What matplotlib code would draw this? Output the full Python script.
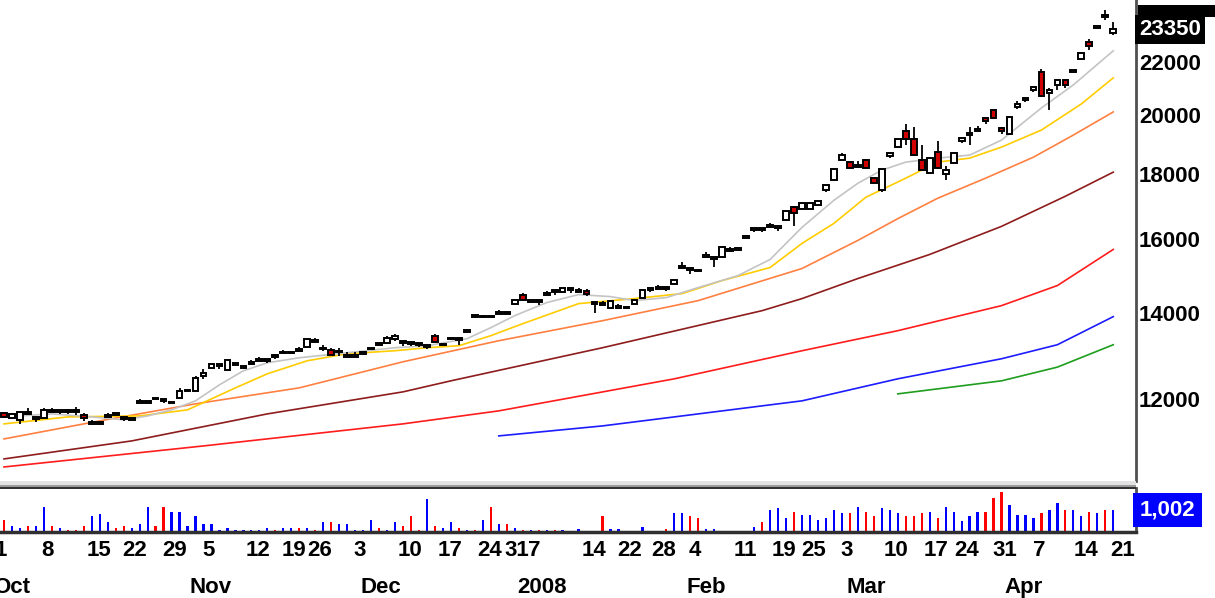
# Daily candlestick chart, Oct 2007 - Apr 2008, with moving averages and volume
import numpy as np
import matplotlib
matplotlib.use('Agg')
import matplotlib.pyplot as plt
import matplotlib.transforms as mtransforms
from matplotlib.patches import Rectangle
from matplotlib.ticker import NullLocator
from matplotlib import font_manager

W, H = 1215, 598

# ---- daily OHLC (one entry per trading day) ----
opens = [11700, 11595, 11554, 11722, 11575, 11595, 11764, 11722, 11764, 11764,
         11658, 11471, 11471, 11616, 11700, 11616, 11554, 11914, 11914, 12022,
         12000, 11914, 12022, 12174, 12174, 12509, 12691, 12737, 12645, 12760,
         12691, 12783, 12852, 12852, 12992, 13040, 13040, 13134, 13181, 13349,
         13134, 13111, 13063, 12945, 12945, 13016, 13134, 13277, 13277, 13373,
         13325, 13301, 13277, 13181, 13446, 13229, 13373, 13397, 13543, 13966,
         13916, 13941, 13991, 14041, 14246, 14480, 14298, 14350, 14480, 14611,
         14559, 14611, 14559, 14585, 14298, 14272, 14143, 14143, 14169, 14246,
         14402, 14611, 14638, 14691, 14771, 15204, 15204, 15149, 15482, 15426,
         15482, 15707, 15679, 16023, 16256, 16315, 16345, 16315, 16553, 16947,
         16886, 16886, 17008, 17475, 17794, 18449, 18382, 18217, 18449, 17859,
         17475, 18583, 18888, 19442, 19163, 18449, 18021, 18719, 17988, 18350,
         19094, 19302, 19442, 19905, 20195, 19547, 19337, 20304, 20563, 20938,
         21631, 20826, 21128, 21320, 21631, 22145, 22837, 23422, 23979, 23180]
highs = [11700, 11690, 11722, 11807, 11616, 11807, 11807, 11764, 11764, 11828,
         11700, 11554, 11512, 11700, 11700, 11616, 11595, 12000, 11957, 12022,
         12000, 11935, 12241, 12196, 12509, 12668, 12783, 12783, 12875, 12806,
         12737, 12875, 12945, 12898, 12992, 13111, 13063, 13181, 13397, 13397,
         13229, 13158, 13158, 13063, 13063, 13063, 13158, 13277, 13446, 13495,
         13325, 13301, 13277, 13229, 13495, 13253, 13397, 13397, 13592, 13966,
         13941, 13941, 14092, 14041, 14350, 14533, 14350, 14350, 14585, 14611,
         14665, 14665, 14665, 14638, 14298, 14324, 14324, 14246, 14169, 14350,
         14611, 14665, 14745, 14691, 14878, 15342, 15204, 15149, 15622, 15482,
         15764, 15764, 15736, 16081, 16315, 16315, 16464, 16374, 16825, 16978,
         17070, 17070, 17131, 17634, 18152, 18685, 18382, 18416, 18483, 17891,
         18152, 18685, 19163, 19690, 19583, 18956, 18516, 19094, 18250, 18685,
         19198, 19583, 19619, 19905, 20195, 19583, 19941, 20526, 20638, 21052,
         21748, 21014, 21320, 21320, 21709, 22386, 22960, 23507, 24174, 23680]
lows = [11600, 11590, 11471, 11680, 11512, 11595, 11722, 11679, 11679, 11658,
        11533, 11471, 11471, 11616, 11658, 11533, 11554, 11914, 11914, 12000,
        11914, 11914, 12022, 12174, 12174, 12441, 12691, 12668, 12645, 12760,
        12691, 12783, 12852, 12806, 12898, 13040, 13040, 13087, 13181, 13301,
        13087, 12992, 12969, 12945, 12945, 13016, 13134, 13229, 13253, 13325,
        13205, 13205, 13181, 13134, 13301, 13229, 13373, 13229, 13543, 13916,
        13916, 13916, 13991, 13991, 14246, 14350, 14298, 14220, 14480, 14480,
        14559, 14533, 14559, 14454, 14016, 14220, 14143, 14143, 14143, 14246,
        14402, 14559, 14638, 14585, 14771, 15204, 15040, 15122, 15482, 15231,
        15482, 15651, 15679, 16023, 16198, 16198, 16345, 16227, 16553, 16374,
        16886, 16886, 17008, 17411, 17794, 18449, 18184, 18217, 18184, 17698,
        17411, 18516, 18888, 18956, 18617, 18119, 18021, 18184, 17794, 18350,
        19025, 18956, 19442, 19690, 19905, 19337, 19337, 20231, 20489, 20862,
        20675, 20195, 20938, 21014, 21631, 22145, 22508, 23422, 23763, 23130]
closes = [11620, 11680, 11722, 11680, 11616, 11764, 11722, 11764, 11722, 11722,
          11595, 11512, 11512, 11658, 11658, 11575, 11595, 11957, 11957, 12000,
          11957, 11935, 12174, 12196, 12464, 12577, 12783, 12783, 12875, 12806,
          12737, 12829, 12898, 12898, 12945, 13063, 13063, 13087, 13373, 13301,
          13158, 12992, 13087, 12992, 12992, 13063, 13158, 13229, 13397, 13446,
          13277, 13253, 13229, 13229, 13301, 13253, 13397, 13349, 13592, 13916,
          13941, 13916, 14041, 13991, 14350, 14350, 14350, 14298, 14533, 14559,
          14665, 14665, 14611, 14507, 14246, 14220, 14324, 14195, 14143, 14350,
          14611, 14665, 14691, 14638, 14878, 15259, 15149, 15122, 15538, 15482,
          15764, 15651, 15736, 16081, 16315, 16256, 16404, 16374, 16825, 16764,
          17070, 17070, 17131, 17634, 18152, 18617, 18184, 18283, 18184, 17698,
          18152, 18685, 19163, 19163, 18617, 18119, 18516, 18184, 18119, 18685,
          19198, 19372, 19512, 19797, 19905, 19442, 19941, 20415, 20638, 21052,
          20713, 20938, 21320, 21128, 21709, 22386, 22672, 23507, 23892, 23350]
volumes = [529, 265, 176, 265, 265, 1147, 265, 176, 88, 88,
           265, 706, 794, 441, 176, 265, 176, 353, 1147, 265,
           1147, 882, 882, 265, 706, 353, 353, 88, 176, 88,
           88, 88, 88, 176, 88, 176, 176, 176, 176, 88,
           441, 441, 353, 353, 88, 88, 529, 176, 88, 441,
           265, 706, 88, 1500, 265, 176, 441, 176, 88, 88,
           529, 1147, 353, 353, 176, 88, 88, 88, 88, 88,
           75, 62, 123, 62, 62, 701, 123, 123, 62, 62,
           209, 62, 62, 123, 849, 849, 701, 627, 123, 123,
           62, 62, 62, 62, 209, 430, 996, 1070, 627, 923,
           775, 775, 554, 627, 996, 849, 849, 1144, 923, 701,
           1070, 996, 849, 701, 701, 849, 923, 627, 1144, 923,
           480, 701, 923, 923, 1513, 1808, 1218, 775, 775, 627,
           849, 996, 1292, 996, 996, 701, 923, 849, 996, 1002]

# ---- moving averages at these bar indices ----
ma_gray_idx = [0, 6, 11, 15, 18, 21, 24, 27, 30, 33, 37, 43, 49, 53, 58, 61, 64, 68,
               72, 76, 79, 83, 87, 92, 96, 100, 104, 107, 110, 113, 117, 121, 125,
               130, 134, 139]
ma_gray = [11616, 11679, 11616, 11554, 11637, 11764, 11957, 12307, 12622, 12806,
           12922, 13040, 13158, 13205, 13373, 13642, 13941, 14272, 14480, 14428,
           14324, 14402, 14665, 14986, 15426, 16345, 17162, 17698, 18119, 18383,
           18516, 18617, 19128, 20268, 21128, 22467]
ma_yellow_idx = [0, 8, 17, 23, 29, 33, 38, 43, 49, 53, 57, 61, 65, 72, 79, 85, 90,
                 96, 100, 104, 108, 113, 117, 121, 125, 130, 135, 139]
ma_yellow = [11471, 11616, 11637, 11764, 12240, 12554, 12852, 13016, 13087, 13158,
             13205, 13446, 13740, 14246, 14376, 14507, 14851, 15204, 15879, 16464,
             17256, 17859, 18383, 18516, 18888, 19477, 20415, 21397]
ma_orange_idx = [0, 12, 24, 37, 50, 62, 75, 87, 100, 107, 112, 117, 123, 129, 134, 139]
ma_orange = [11164, 11533, 11893, 12240, 12829, 13325, 13815, 14324, 15177, 15965,
             16603, 17225, 17859, 18548, 19302, 20123]
ma_maroon_idx = [0, 16, 33, 50, 56, 75, 95, 100, 107, 116, 125, 133, 139]
ma_maroon = [10769, 11124, 11679, 12152, 12396, 13158, 14067, 14376, 14905, 15566,
             16374, 17287, 18054]
ma_red_idx = [0, 25, 50, 62, 84, 100, 112, 125, 132, 139]
ma_red = [10614, 11024, 11471, 11743, 12441, 13087, 13568, 14195, 14718, 15707]
ma_blue_idx = [62, 75, 87, 100, 112, 125, 132, 139]
ma_blue = [11225, 11429, 11679, 11957, 12441, 12899, 13229, 13916]
ma_green_idx = [112, 125, 132, 139]
ma_green = [12108, 12396, 12706, 13229]

# ---- axis labels ----
price_ticks = [12000, 14000, 16000, 18000, 20000, 22000]
day_pos = [-0.4, 5.4, 11.9, 16.4, 21.4, 25.6, 31.8, 36.3, 39.5, 44.6, 50.9, 55.9,
           60.8, 64.2, 66.5, 73.9, 78.4, 82.6, 86.6, 92.9, 97.7, 101.5, 105.6,
           111.8, 116.8, 120.6, 125.4, 129.7, 135.6, 140.2]
day_labels = ['1', '8', '15', '22', '29', '5', '12', '19', '26', '3', '10', '17',
              '24', '31', '7', '14', '22', '28', '4', '11', '19', '25', '3', '10',
              '17', '24', '31', '7', '14', '21']
month_pos = [1.0, 25.9, 47.2, 67.4, 88.0, 108.1, 127.8]
month_labels = ['Oct', 'Nov', 'Dec', '2008', 'Feb', 'Mar', 'Apr']

# fonts
names = {f.name for f in font_manager.fontManager.ttflist}
if 'Liberation Sans Narrow' in names:
    narrow, day_size = 'Liberation Sans Narrow', 18
else:
    narrow, day_size = 'Liberation Sans', 16
label_font = 'Liberation Sans'


def fbox(x0, y0, x1, y1):
    # pixel box (top-left origin) -> figure fraction rect
    return [x0 / W, 1 - y1 / H, (x1 - x0) / W, (y1 - y0) / H]


fig = plt.figure(figsize=(W / 100, H / 100), dpi=100)
fig.patch.set_facecolor('white')
ax = fig.add_axes(fbox(0, 0, 1136, 481))
axv = fig.add_axes(fbox(0, 488, 1136, 532), sharex=ax)

n = len(closes)
x = np.arange(n)

# moving averages
for idx, vals, col in [(ma_green_idx, ma_green, '#1e9e1e'),
                       (ma_blue_idx, ma_blue, '#1c1cff'),
                       (ma_red_idx, ma_red, '#ff1c1c'),
                       (ma_maroon_idx, ma_maroon, '#8e1c1c'),
                       (ma_orange_idx, ma_orange, '#ff8040'),
                       (ma_yellow_idx, ma_yellow, '#ffcc00'),
                       (ma_gray_idx, ma_gray, '#c4c4c4')]:
    ax.plot(idx, vals, color=col, lw=1.2, zorder=2)

# candles
ax.vlines(x, lows, highs, color='black', lw=1.3, zorder=3)
for i in x:
    o, c = opens[i], closes[i]
    face = '#d00000' if c < o else 'white'
    ax.add_patch(Rectangle((i - 0.36, min(o, c)), 0.72, abs(c - o),
                           facecolor=face, edgecolor='black', lw=1.4, zorder=4))

ax.set_yscale('log')
ax.set_ylim(10349, 24620)
ax.set_xlim(-0.5, 141.85)
ax.yaxis.tick_right()
ax.set_yticks(price_ticks)
ax.set_yticklabels([str(v) for v in price_ticks])
ax.yaxis.set_minor_locator(NullLocator())
ax.tick_params(axis='y', length=0, pad=2, labelsize=16)
for t in ax.get_yticklabels():
    t.set_fontfamily(label_font)
    t.set_fontweight('bold')
ax.tick_params(axis='x', bottom=False, labelbottom=False)
for s in ['left', 'top', 'bottom']:
    ax.spines[s].set_visible(False)
ax.spines['right'].set_color('#505050')
ax.spines['right'].set_linewidth(2)

# last close box
tr = mtransforms.blended_transform_factory(ax.transAxes, ax.transData)
ax.text(1.003, closes[-1], f'{closes[-1]}', transform=tr, ha='left', va='center',
        color='white', fontsize=16, fontweight='bold', family=label_font,
        bbox=dict(boxstyle='square,pad=0.18', fc='black', ec='none'), clip_on=False)
fig.add_artist(Rectangle((1138 / W, 1 - 17 / H), 77 / W, 12 / H,
                         transform=fig.transFigure, fc='black', ec='none'))

# volume
vcol = ['#ff0000' if c < o else '#0000ff' for o, c in zip(opens, closes)]
axv.bar(x, volumes, width=0.28, color=vcol, zorder=2)
axv.set_ylim(0, 1985)
axv.set_yticks([])
axv.spines['left'].set_visible(False)
axv.spines['top'].set_visible(False)
axv.spines['right'].set_color('#505050')
axv.spines['right'].set_linewidth(2)
axv.spines['bottom'].set_color('#303030')
axv.spines['bottom'].set_linewidth(2.5)
trv = mtransforms.blended_transform_factory(axv.transAxes, axv.transData)
axv.text(1.003, volumes[-1], f'{volumes[-1]:,}', transform=trv, ha='left', va='center',
         color='white', fontsize=16, fontweight='bold', family=label_font,
         bbox=dict(boxstyle='square,pad=0.3', fc='#0000ff', ec='none'), clip_on=False)

axv.set_xticks(day_pos)
axv.set_xticklabels(day_labels)
axv.tick_params(axis='x', length=0, pad=6, labelsize=day_size)
for t in axv.get_xticklabels():
    t.set_fontfamily(narrow)
    t.set_fontweight('bold')
for p, lab in zip(month_pos, month_labels):
    axv.annotate(lab, xy=(p, 0), xycoords=('data', 'axes fraction'),
                 xytext=(0, -40), textcoords='offset points', ha='center', va='center',
                 fontsize=day_size, fontweight='bold', family=narrow, annotation_clip=False)

# panel separator
fig.add_artist(Rectangle((0, 1 - 485 / H), 1136 / W, 4 / H, transform=fig.transFigure,
                         fc='#e2e2e2', ec='none'))
fig.add_artist(Rectangle((0, 1 - 487 / H), 1136 / W, 2 / H, transform=fig.transFigure,
                         fc='#9a9a9a', ec='none'))
fig.add_artist(Rectangle((0, 1 - 489 / H), 1136 / W, 2 / H, transform=fig.transFigure,
                         fc='#303030', ec='none'))

fig.savefig('out.png', dpi=100, facecolor='white')
